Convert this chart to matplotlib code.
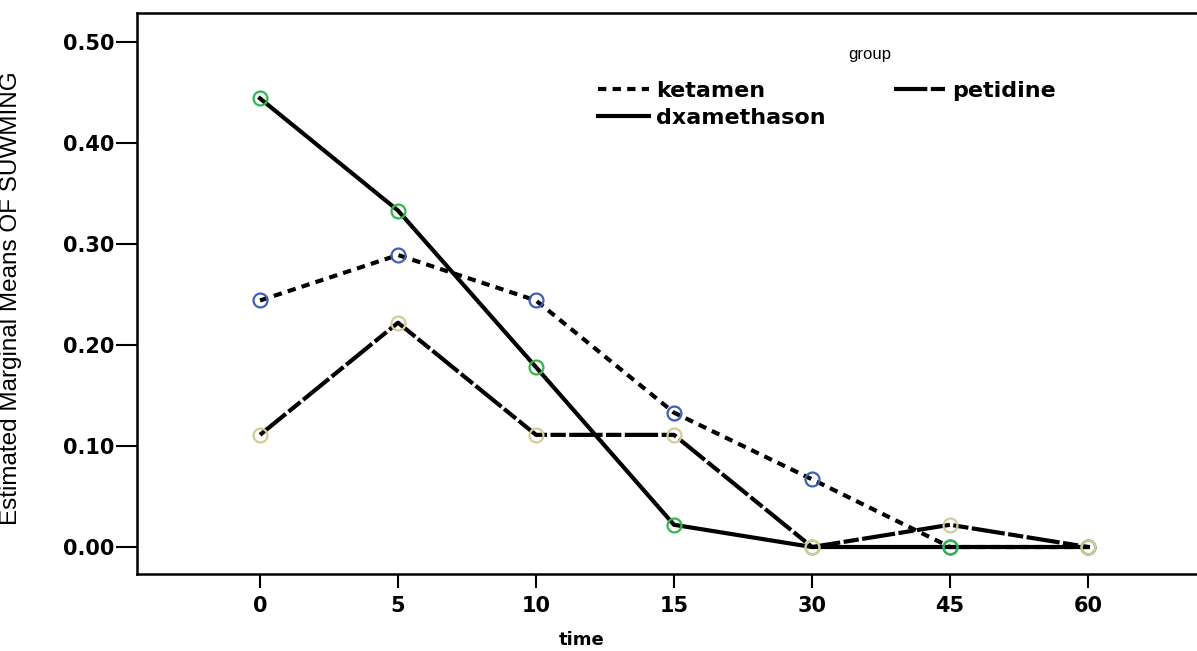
import matplotlib
matplotlib.use("Agg")
import matplotlib.pyplot as plt

# data
times = ["0", "5", "10", "15", "30", "45", "60"]
ketamen = [0.244, 0.289, 0.244, 0.133, 0.067, 0.0, 0.0]
petidine = [0.111, 0.222, 0.111, 0.111, 0.0, 0.022, 0.0]
dxamethason = [0.444, 0.333, 0.178, 0.022, 0.0, 0.0, 0.0]
yticks = [0.0, 0.1, 0.2, 0.3, 0.4, 0.5]

plt.rcParams['lines.scale_dashes'] = False

fig = plt.figure(figsize=(11.97, 6.51), dpi=100)
ax = fig.add_axes([0.1145, 0.1183, 0.8855, 0.862])

x = list(range(len(times)))
lw = 3

l_ket, = ax.plot(x, ketamen, color='black', lw=lw, dashes=(6, 4.5), label='ketamen')
l_dxa, = ax.plot(x, dxamethason, color='black', lw=lw, label='dxamethason')
l_pet, = ax.plot(x, petidine, color='black', lw=lw, dashes=(24, 2.5, 11, 2.5), label='petidine')

# hollow circle markers on top of the lines
ax.plot(x, ketamen, ls='none', marker='o', ms=10, mfc='none', mec='#4060b8', mew=1.6)
ax.plot(x, dxamethason, ls='none', marker='o', ms=10, mfc='none', mec='#2fb84c', mew=1.6)
ax.plot(x, petidine, ls='none', marker='o', ms=10, mfc='none', mec='#d3cd98', mew=1.6)

ax.set_xlim(-0.891, 6.79)
ax.set_ylim(-0.0267, 0.5287)
ax.set_xticks(x)
ax.set_xticklabels(times)
ax.set_yticks(yticks)
ax.set_yticklabels(['%.2f' % v for v in yticks])

for lab in ax.get_xticklabels() + ax.get_yticklabels():
    lab.set_fontweight('bold')
    lab.set_fontsize(15)
    lab.set_family('DejaVu Sans')

ax.tick_params(axis='y', length=15, width=1.5, pad=1)
ax.tick_params(axis='x', length=10, width=1.5, pad=6)

for side in ['left', 'bottom', 'top']:
    ax.spines[side].set_linewidth(1.8)
ax.spines['right'].set_visible(False)

ax.set_xlabel('time', fontsize=13, fontweight='bold')
ax.xaxis.set_label_coords(582 / 1197, 1 - 631 / 651, transform=fig.transFigure)
ax.set_ylabel('Estimated Marginal Means OF SUWMING', fontsize=17.5,
              family='Liberation Sans')
ax.yaxis.set_label_coords(22 / 1197, 1 - 298 / 651, transform=fig.transFigure)

fig.text(870 / 1197, 1 - 55 / 651, 'group', fontsize=12, ha='center', va='center',
         family='Liberation Sans')
leg = ax.legend(handles=[l_ket, l_dxa, l_pet], ncol=2, frameon=False,
                loc='upper left', bbox_to_anchor=(598 / 1197, 1 - 81 / 651),
                bbox_transform=fig.transFigure,
                prop={'weight': 'bold', 'size': 16}, handlelength=2.3,
                handletextpad=0.3, columnspacing=3.1, labelspacing=0.3,
                borderaxespad=0, borderpad=0)

fig.savefig('out.png', dpi=100)
